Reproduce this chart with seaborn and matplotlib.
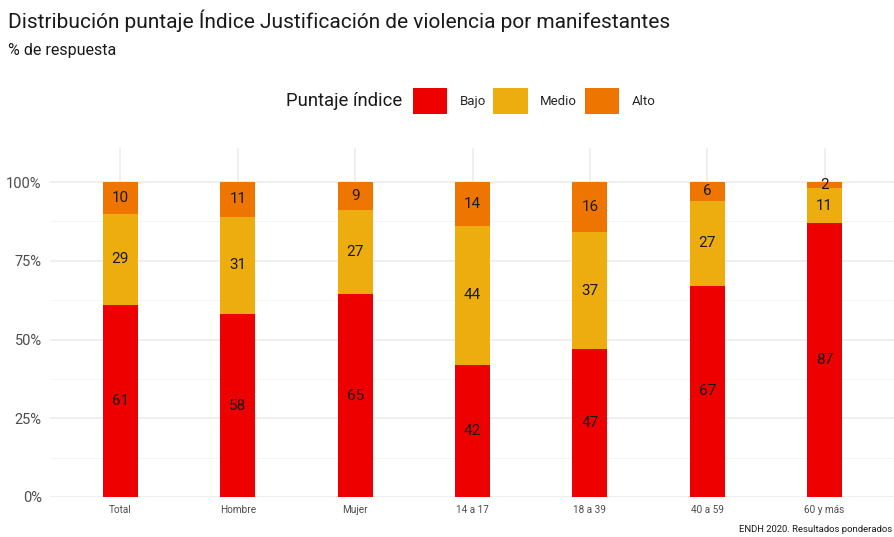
import numpy as np
import pandas as pd
import matplotlib
matplotlib.use("Agg")
import matplotlib.pyplot as plt
from matplotlib.patches import Patch
from matplotlib.ticker import FixedLocator, PercentFormatter
import seaborn as sns

# Data: % de respuesta por nivel del índice
categorias = ["Total", "Hombre", "Mujer", "14 a 17", "18 a 39", "40 a 59", "60 y más"]
niveles = ["Bajo", "Medio", "Alto"]
bajo = [61, 58, 65, 42, 47, 67, 87]
medio = [29, 31, 27, 44, 37, 27, 11]
alto = [10, 11, 9, 14, 16, 6, 2]
colores = {"Bajo": "#EE0000", "Medio": "#EEAD0E", "Alto": "#EE7600"}

sns.set_theme(style="whitegrid")
plt.rcParams["font.family"] = ["Roboto", "DejaVu Sans"]

df = pd.DataFrame({"categoria": categorias, "Bajo": bajo, "Medio": medio, "Alto": alto})
total = df[niveles].sum(axis=1)

fig = plt.figure(figsize=(8.94, 5.37), dpi=100)
ax = fig.add_axes([50 / 894, 1 - 497 / 537, 845 / 894, (497 - 148) / 537])

base = np.zeros(len(df))
for nivel in niveles:
    frac = (df[nivel] / total).to_numpy()
    sns.barplot(x=df["categoria"], y=frac, bottom=base, color=colores[nivel],
                width=0.3, saturation=1, edgecolor="none", linewidth=0, ax=ax)
    cont = ax.containers[-1]
    ax.bar_label(cont, labels=[str(v) for v in df[nivel]], label_type="center",
                 fontsize=11, color="#1a1a1a")
    base = base + frac

ax.set_xlim(-0.6, len(categorias) - 0.4)
ax.set_ylim(0, 1.108)
ax.yaxis.set_major_locator(FixedLocator([0, 0.25, 0.5, 0.75, 1.0]))
ax.yaxis.set_minor_locator(FixedLocator([0.125, 0.375, 0.625, 0.875]))
ax.yaxis.set_major_formatter(PercentFormatter(1.0, decimals=0))
ax.grid(True, which="major", color="#EBEBEB", linewidth=1.1)
ax.grid(True, which="minor", axis="y", color="#F3F3F3", linewidth=0.6)
ax.set_axisbelow(True)
for s in ax.spines.values():
    s.set_visible(False)
ax.set_xlabel("")
ax.set_ylabel("")
ax.tick_params(axis="x", labelsize=7.2, labelcolor="#4D4D4D", length=0, pad=6)
ax.tick_params(axis="y", labelsize=10.5, labelcolor="#4D4D4D", length=0, pad=6)
ax.tick_params(which="minor", length=0)

fig.text(8 / 894, 1 - 21 / 537, "Distribución puntaje Índice Justificación de violencia por manifestantes",
         fontsize=15, color="#1a1a1a", va="center", ha="left")
fig.text(8 / 894, 1 - 51 / 537, "% de respuesta", fontsize=11.5, color="#1a1a1a",
         va="center", ha="left")

fig.text(402 / 894, 1 - 101 / 537, "Puntaje índice", fontsize=13.3, color="#1a1a1a",
         va="center", ha="right")
handles = [Patch(facecolor=colores[n], edgecolor="none", label=n) for n in niveles]
fig.legend(handles=handles, ncol=3, loc="center left",
           bbox_to_anchor=(409 / 894, 1 - 101 / 537), frameon=False,
           fontsize=9.5, handlelength=2.6, handleheight=2.6,
           handletextpad=0.95, columnspacing=0.55, borderaxespad=0, borderpad=0.3)

fig.text(892 / 894, 1 - 530 / 537, "ENDH 2020. Resultados ponderados", fontsize=6.8,
         color="#1a1a1a", va="center", ha="right")

fig.savefig("out.png", dpi=100)
